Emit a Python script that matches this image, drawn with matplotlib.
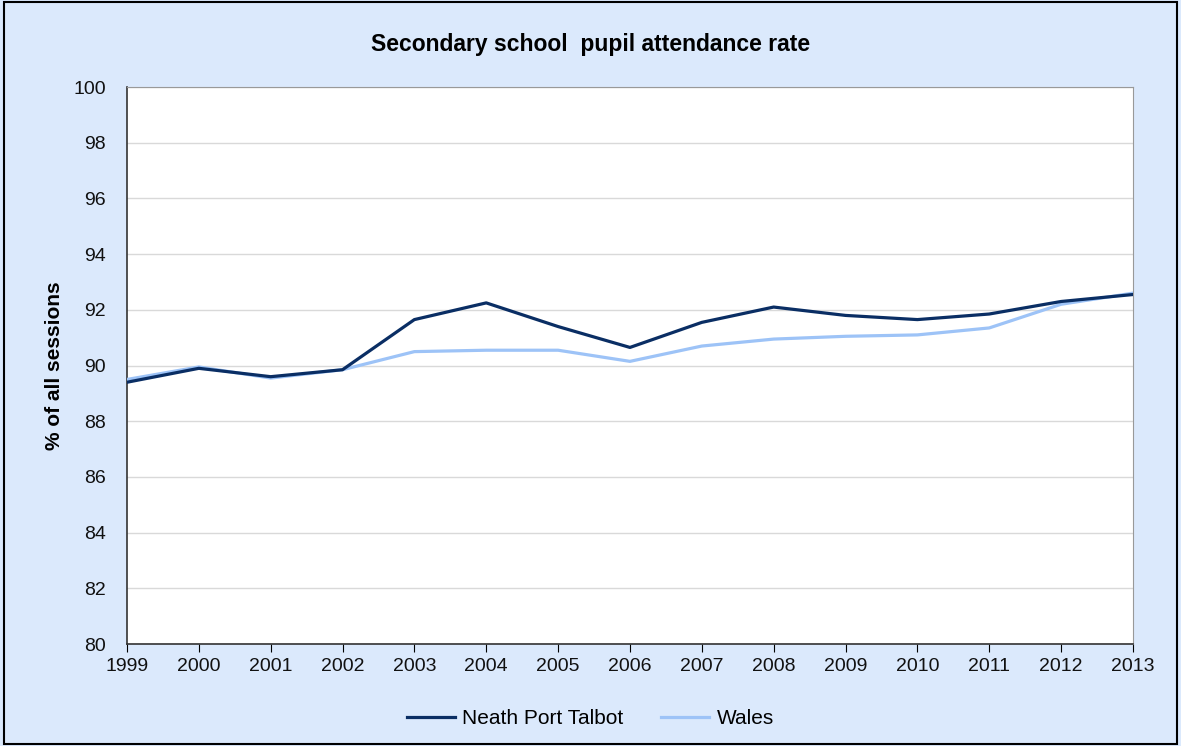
import matplotlib
matplotlib.use("Agg")
import matplotlib.pyplot as plt

years = list(range(1999, 2014))
neath_port_talbot = [89.4, 89.9, 89.6, 89.85, 91.65, 92.25, 91.4, 90.65,
                     91.55, 92.1, 91.8, 91.65, 91.85, 92.3, 92.55]
wales = [89.5, 89.95, 89.55, 89.85, 90.5, 90.55, 90.55, 90.15,
         90.7, 90.95, 91.05, 91.1, 91.35, 92.2, 92.6]
y_ticks = list(range(80, 101, 2))

bg = "#DBE9FC"
plt.rcParams["font.family"] = ["Liberation Sans", "DejaVu Sans"]

fig = plt.figure(figsize=(11.81, 7.46), dpi=100, facecolor=bg)
fig.patches.append(plt.Rectangle((0.003, 0.003), 0.994, 0.994, transform=fig.transFigure,
                                 fill=False, edgecolor="black", linewidth=1.5))
ax = fig.add_axes([0.1075, 0.1367, 0.8518, 0.7466])
ax.set_facecolor("white")

ax.plot(years, wales, color="#9DC3F7", linewidth=2.3, label="Wales", zorder=3)
ax.plot(years, neath_port_talbot, color="#0A2E64", linewidth=2.3,
        label="Neath Port Talbot", zorder=4)

ax.set_xlim(years[0], years[-1])
ax.set_ylim(80, 100)
ax.set_yticks(y_ticks)
ax.set_xticks(years)
ax.grid(axis="y", color="#D9D9D9", linewidth=1)
ax.set_axisbelow(True)
ax.tick_params(axis="both", labelsize=14, labelcolor="#111111")
ax.tick_params(axis="x", direction="out", length=6, color="black", pad=4)
ax.tick_params(axis="y", length=0, pad=15)
for side in ["left", "bottom"]:
    ax.spines[side].set_color("#333333")
    ax.spines[side].set_linewidth(1.2)
for side in ["top", "right"]:
    ax.spines[side].set_color("#999999")

ax.set_ylabel("% of all sessions", fontsize=15, fontweight="bold", labelpad=7)
fig.text(0.5, 0.94, "Secondary school  pupil attendance rate", ha="center",
         va="center", fontsize=16.5, fontweight="bold")

handles, labels = ax.get_legend_handles_labels()
fig.legend(handles[::-1], labels[::-1], loc="center", bbox_to_anchor=(0.5, 0.037),
           ncol=2, frameon=False, fontsize=15, handlelength=2.3, columnspacing=1.8,
           handletextpad=0.35)

fig.savefig("out.png", dpi=100, facecolor=bg)
